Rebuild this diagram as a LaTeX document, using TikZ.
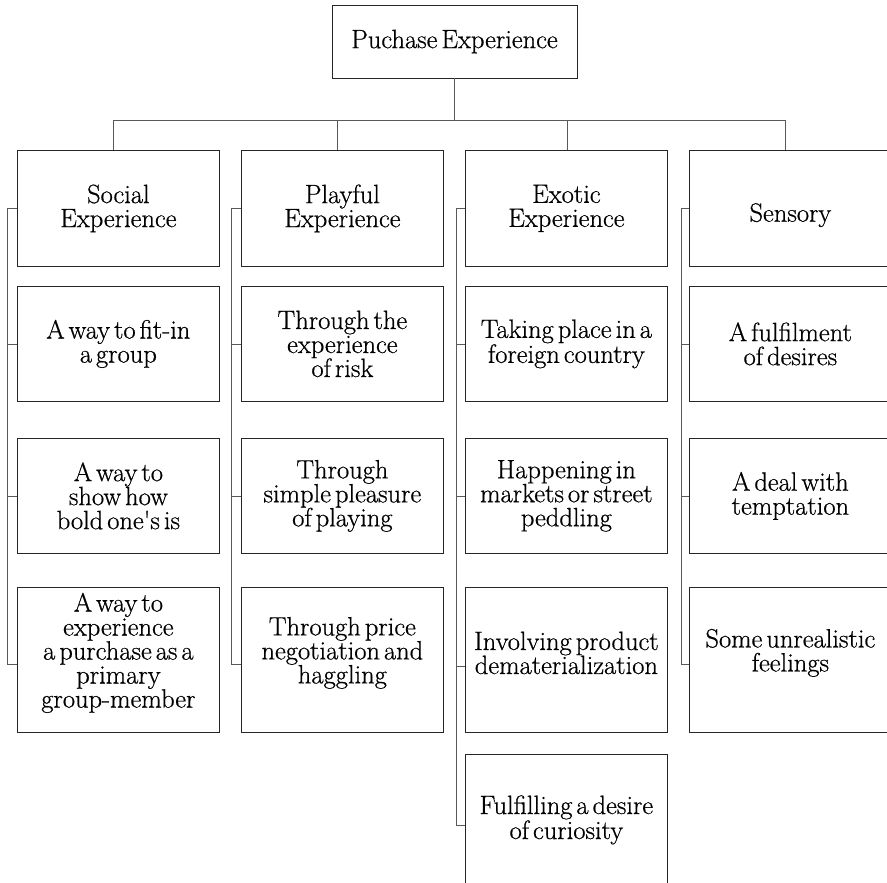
\documentclass[tikz,border=0pt]{standalone}
\usepackage{fontspec}
% slightly heavier Latin Modern for the box labels
\newfontfamily\boxface{Latin Modern Roman}[FakeBold=0.6]
% extra space under the last line, so the text sits above the box centre
\newcommand\lowpad{\endgraf\vspace{14pt}}
% narrow word spaces (set after the alignment code, which resets them)
\newcommand\tightwords{\spaceskip=4pt\relax\xspaceskip=4pt\relax}
% text face of every box
\newcommand\boxfont{\boxface\fontsize{26.5}{24}\selectfont}
\begin{document}
\begin{tikzpicture}[x=1pt,y=-1pt,
  txt/.style={font=\boxfont, execute at begin node=\tightwords},
  box/.style={txt, draw=black!85, line width=0.8pt, rectangle, inner sep=0pt,
    minimum width=202pt, text width=200pt, align=center, anchor=north west},
  rowa/.style={box, minimum height=116pt},
  rowb/.style={box, minimum height=115pt},
  rowc/.style={box, minimum height=145pt, execute at end node=\lowpad},
  link/.style={draw=black!65, line width=0.8pt}]
\useasboundingbox (0,0) rectangle (887,883);
\clip (0,0) rectangle (887,883);

% root
\node[txt, draw=black!85, line width=0.8pt, minimum width=245pt, minimum height=73pt, inner sep=0pt]
  (root) at (454.5,41.5) {Puchase Experience};

% column 1
\node[rowa] (a1) at (17,150) {Social\\Experience};
\node[rowb] (a2) at (17,286) {A way to fit-in\\a group};
\node[rowb] (a3) at (17,438) {A way to\\show how\\bold one's is};
\node[rowc] (a4) at (17,587) {A way to\\experience\\a purchase as a\\primary\\group-member};

% column 2
\node[rowa] (b1) at (241,150) {Playful\\Experience};
\node[rowb] (b2) at (241,286) {Through the\\experience\\of risk};
\node[rowb] (b3) at (241,438) {Through\\simple pleasure\\of playing};
\node[rowc] (b4) at (241,587) {Through price\\negotiation and\\haggling};

% column 3
\node[rowa] (c1) at (465,150) {Exotic\\Experience};
\node[rowb] (c2) at (465,286) {Taking place in a\\foreign country};
\node[rowb] (c3) at (465,438) {Happening in\\markets or street\\peddling};
\node[rowc] (c4) at (465,587) {Involving product\\dematerialization};
\node[rowc] (c5) at (465,754) {Fulfilling a desire\\of curiosity};

% column 4
\node[rowa, text height=32pt] (d1) at (689,150) {Sensory};
\node[rowb] (d2) at (689,286) {A fulfilment\\of desires};
\node[rowb] (d3) at (689,438) {A deal with\\temptation};
\node[rowc] (d4) at (689,587) {Some unrealistic\\feelings};

% tree from the root to the column heads
\coordinate (bus) at (454.5,120);
\draw[link] (root.south) -- (bus);
\draw[link] ([xshift=-5pt]a1.north) -- ++(0,-30) -| ([xshift=-5pt]d1.north);
\draw[link] ([xshift=-5pt]b1.north) -- ++(0,-30);
\draw[link] ([xshift=1pt]c1.north) -- ++(0,-30);

% side brackets down each column
\draw[link] (a1.west) -- ++(-10,0) |- ([yshift=-4pt]a4.west);
\draw[link] (a2.west) -- ++(-10,0);
\draw[link] (a3.west) -- ++(-10,0);

\draw[link] (b1.west) -- ++(-10,0) |- ([yshift=-4pt]b4.west);
\draw[link] (b2.west) -- ++(-10,0);
\draw[link] (b3.west) -- ++(-10,0);

\draw[link] (c1.west) -- ++(-9,0) |- ([yshift=2pt]c5.west);
\draw[link] (c2.west) -- ++(-9,0);
\draw[link] (c3.west) -- ++(-9,0);
\draw[link] ([yshift=-6pt]c4.west) -- ++(-9,0);

\draw[link] (d1.west) -- ++(-8,0) |- ([yshift=-4pt]d4.west);
\draw[link] (d2.west) -- ++(-8,0);
\draw[link] (d3.west) -- ++(-8,0);
\end{tikzpicture}
\end{document}
